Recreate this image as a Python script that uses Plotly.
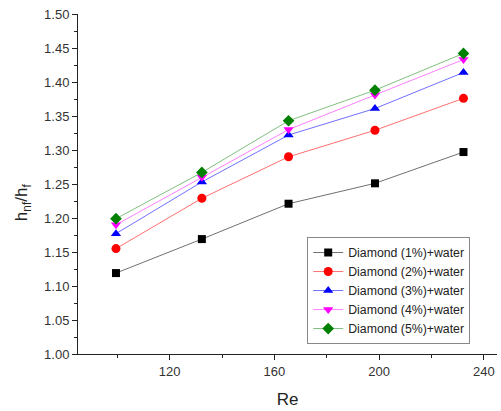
import plotly.graph_objects as go

# Reynolds numbers and heat-transfer ratio h_nf/h_f for each diamond concentration
re_values = [99.5, 132.3, 165.4, 198.4, 232.2]
diamond_1 = [1.119, 1.169, 1.221, 1.251, 1.297]
diamond_2 = [1.155, 1.229, 1.290, 1.329, 1.376]
diamond_3 = [1.177, 1.253, 1.322, 1.361, 1.414]
diamond_4 = [1.190, 1.260, 1.330, 1.381, 1.433]
diamond_5 = [1.199, 1.267, 1.343, 1.388, 1.442]

series_names = [
    "Diamond (1%)+water",
    "Diamond (2%)+water",
    "Diamond (3%)+water",
    "Diamond (4%)+water",
    "Diamond (5%)+water",
]
series_values = [diamond_1, diamond_2, diamond_3, diamond_4, diamond_5]

marker_colors = ["#000000", "#ff0000", "#0000ff", "#ff00ff", "#008000"]
line_colors = ["#707070", "#ff7070", "#7070ff", "#ff80ff", "#80c080"]
symbols = ["square", "circle", "triangle-up", "triangle-down", "diamond"]
sizes = [8, 9, 9, 9, 9]

fig = go.Figure()
for name, vals, mc, lc, sym, sz in zip(series_names, series_values, marker_colors,
                                       line_colors, symbols, sizes):
    fig.add_trace(go.Scatter(
        x=re_values, y=vals, name=name, mode="lines+markers",
        line=dict(color=lc, width=1),
        marker=dict(color=mc, symbol=sym, size=sz, line=dict(width=0)),
    ))

axis_font = dict(family="Arial, Liberation Sans, sans-serif", size=13, color="#333333")

fig.update_layout(
    width=501, height=411,
    margin=dict(l=78, r=4, t=14, b=57),
    paper_bgcolor="white", plot_bgcolor="white",
    font=dict(family="Arial, Liberation Sans, sans-serif", color="#222222"),
    showlegend=True,
    legend=dict(
        x=0.547, y=0.344, xanchor="left", yanchor="top",
        bgcolor="white", bordercolor="#888888", borderwidth=1,
        font=dict(size=12.3, color="#222222"),
        tracegroupgap=0, itemwidth=30,
    ),
    xaxis=dict(
        range=[85, 245], tickmode="array", tickvals=[120, 160, 200, 240],
        ticks="outside", ticklen=5, tickwidth=1, tickcolor="#222222",
        minor=dict(tickvals=[100, 140, 180, 220], ticks="outside", ticklen=3,
                   tickcolor="#222222"),
        showline=True, linecolor="#222222", linewidth=1,
        showgrid=False, zeroline=False,
        tickfont=axis_font,
        title=dict(text="Re", font=dict(size=17, color="#222222"), standoff=15),
    ),
    yaxis=dict(
        range=[1.0, 1.5], tickmode="linear", tick0=1.0, dtick=0.05,
        tickformat=".2f",
        ticks="outside", ticklen=5, tickwidth=1, tickcolor="#222222",
        minor=dict(dtick=0.025, ticks="outside", ticklen=3, tickcolor="#222222"),
        showline=True, linecolor="#222222", linewidth=1,
        showgrid=False, zeroline=False,
        tickfont=axis_font,
    ),
    annotations=[dict(
        text="h<sub>nf</sub>/h<sub>f</sub>", textangle=-90,
        xref="paper", yref="paper", x=-0.131, y=0.447,
        xanchor="center", yanchor="middle", showarrow=False,
        font=dict(size=17, color="#222222"),
    )],
)

fig.write_html("out.html")
